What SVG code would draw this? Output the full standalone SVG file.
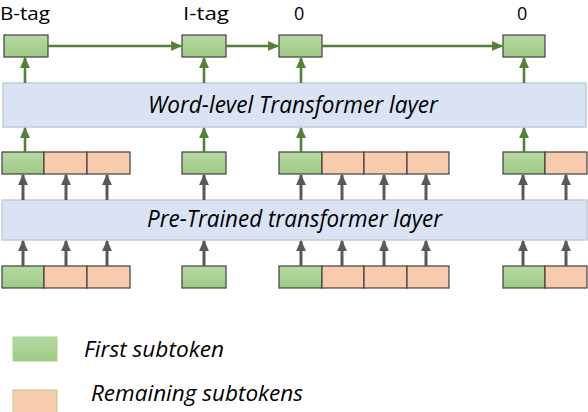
<svg xmlns="http://www.w3.org/2000/svg" width="588" height="412" viewBox="0 0 588 412">
<defs>
<linearGradient id="gg" x1="0" y1="0" x2="0" y2="1">
<stop offset="0" stop-color="#b6d9a3"/>
<stop offset="1" stop-color="#9dcb84"/>
</linearGradient>
<marker id="ag" markerUnits="userSpaceOnUse" markerWidth="11" markerHeight="11" viewBox="0 0 10 10" refX="9" refY="5" orient="auto">
<path d="M0,0.5 L10,5 L0,9.5 z" fill="#548235"/>
</marker>
<marker id="ak" markerUnits="userSpaceOnUse" markerWidth="11" markerHeight="11" viewBox="0 0 10 10" refX="9" refY="5" orient="auto">
<path d="M0,0.5 L10,5 L0,9.5 z" fill="#595959"/>
</marker>
<style>
.g{fill:url(#gg);stroke:#404040;stroke-width:1.2}
.o{fill:#f8cbad;stroke:#404040;stroke-width:1.2}
.band{fill:#dae3f3;stroke:#c3cbd8;stroke-width:1.5}
.lg{fill:url(#gg);stroke:#a9d18e;stroke-width:1}
.lo{fill:#f8cbad;stroke:#a9d18e;stroke-width:1}
.ga{stroke:#548235;stroke-width:2.6;fill:none;marker-end:url(#ag)}
.ka{stroke:#595959;stroke-width:3;fill:none;marker-end:url(#ak)}
text{font-family:"Open Sans","Liberation Sans",sans-serif;fill:#000}
.it{font-style:italic}
</style>
</defs>
<g id="labels">
<text x="0" y="20" font-size="18" textLength="50" lengthAdjust="spacingAndGlyphs">B-tag</text>
<text x="183" y="20" font-size="18" textLength="46" lengthAdjust="spacingAndGlyphs">I-tag</text>
<text x="294" y="20" font-size="18">0</text>
<text x="517" y="20" font-size="18">0</text>
</g>
<g id="word-layer">
<rect class="band" x="3" y="83" width="583" height="44"/>
<text class="it" x="148" y="113" font-size="23" textLength="290" lengthAdjust="spacingAndGlyphs">Word-level Transformer layer</text>
</g>
<g id="pretrained-layer">
<rect class="band" x="2" y="200" width="585" height="40"/>
<text class="it" x="147" y="227" font-size="23" textLength="295" lengthAdjust="spacingAndGlyphs">Pre-Trained transformer layer</text>
</g>
<g id="tags">
<rect class="g" x="4" y="35" width="44" height="22"/>
<rect class="g" x="182" y="35" width="44" height="22"/>
<rect class="g" x="279" y="35" width="43" height="22"/>
<rect class="g" x="503" y="35" width="42" height="22"/>
</g>
<g id="row-mid">
<rect class="g" x="2" y="152" width="42" height="22"/>
<rect class="o" x="44" y="152" width="43" height="22"/>
<rect class="o" x="87" y="152" width="43" height="22"/>
<rect class="g" x="182" y="152" width="44" height="22"/>
<rect class="g" x="279" y="152" width="43" height="22"/>
<rect class="o" x="322" y="152" width="42" height="22"/>
<rect class="o" x="364" y="152" width="43" height="22"/>
<rect class="o" x="407" y="152" width="42" height="22"/>
<rect class="g" x="503" y="152" width="42" height="22"/>
<rect class="o" x="545" y="152" width="42" height="22"/>
</g>
<g id="row-bottom">
<rect class="g" x="2" y="266" width="42" height="22"/>
<rect class="o" x="44" y="266" width="43" height="22"/>
<rect class="o" x="87" y="266" width="43" height="22"/>
<rect class="g" x="182" y="266" width="44" height="22"/>
<rect class="g" x="279" y="266" width="43" height="22"/>
<rect class="o" x="322" y="266" width="42" height="22"/>
<rect class="o" x="364" y="266" width="43" height="22"/>
<rect class="o" x="407" y="266" width="42" height="22"/>
<rect class="g" x="503" y="266" width="42" height="22"/>
<rect class="o" x="545" y="266" width="42" height="22"/>
</g>
<g id="connectors">
<line class="ga" x1="48" y1="46" x2="181" y2="46"/>
<line class="ga" x1="226" y1="46" x2="278" y2="46"/>
<line class="ga" x1="322" y1="46" x2="502" y2="46"/>
<line class="ga" x1="25" y1="83" x2="25" y2="58"/>
<line class="ga" x1="204" y1="83" x2="204" y2="58"/>
<line class="ga" x1="301" y1="83" x2="301" y2="58"/>
<line class="ga" x1="524" y1="83" x2="524" y2="58"/>
<line class="ga" x1="25" y1="152" x2="25" y2="128"/>
<line class="ga" x1="204" y1="152" x2="204" y2="128"/>
<line class="ga" x1="301" y1="152" x2="301" y2="128"/>
<line class="ga" x1="524" y1="152" x2="524" y2="128"/>
<line class="ka" x1="23" y1="200" x2="23" y2="175"/>
<line class="ka" x1="66" y1="200" x2="66" y2="175"/>
<line class="ka" x1="107" y1="200" x2="107" y2="175"/>
<line class="ka" x1="204" y1="200" x2="204" y2="175"/>
<line class="ka" x1="301" y1="200" x2="301" y2="175"/>
<line class="ka" x1="342" y1="200" x2="342" y2="175"/>
<line class="ka" x1="384" y1="200" x2="384" y2="175"/>
<line class="ka" x1="426" y1="200" x2="426" y2="175"/>
<line class="ka" x1="523" y1="200" x2="523" y2="175"/>
<line class="ka" x1="566" y1="200" x2="566" y2="175"/>
<line class="ka" x1="23" y1="266" x2="23" y2="241"/>
<line class="ka" x1="66" y1="266" x2="66" y2="241"/>
<line class="ka" x1="107" y1="266" x2="107" y2="241"/>
<line class="ka" x1="204" y1="266" x2="204" y2="241"/>
<line class="ka" x1="301" y1="266" x2="301" y2="241"/>
<line class="ka" x1="342" y1="266" x2="342" y2="241"/>
<line class="ka" x1="384" y1="266" x2="384" y2="241"/>
<line class="ka" x1="426" y1="266" x2="426" y2="241"/>
<line class="ka" x1="523" y1="266" x2="523" y2="241"/>
<line class="ka" x1="566" y1="266" x2="566" y2="241"/>
</g>
<g id="legend">
<rect class="lg" x="13" y="337" width="44" height="24"/>
<text class="it" x="84" y="357" font-size="21" textLength="140" lengthAdjust="spacingAndGlyphs">First subtoken</text>
<rect class="lo" x="13" y="390" width="44" height="24"/>
<text class="it" x="91" y="401" font-size="21" textLength="212" lengthAdjust="spacingAndGlyphs">Remaining subtokens</text>
</g>
</svg>
